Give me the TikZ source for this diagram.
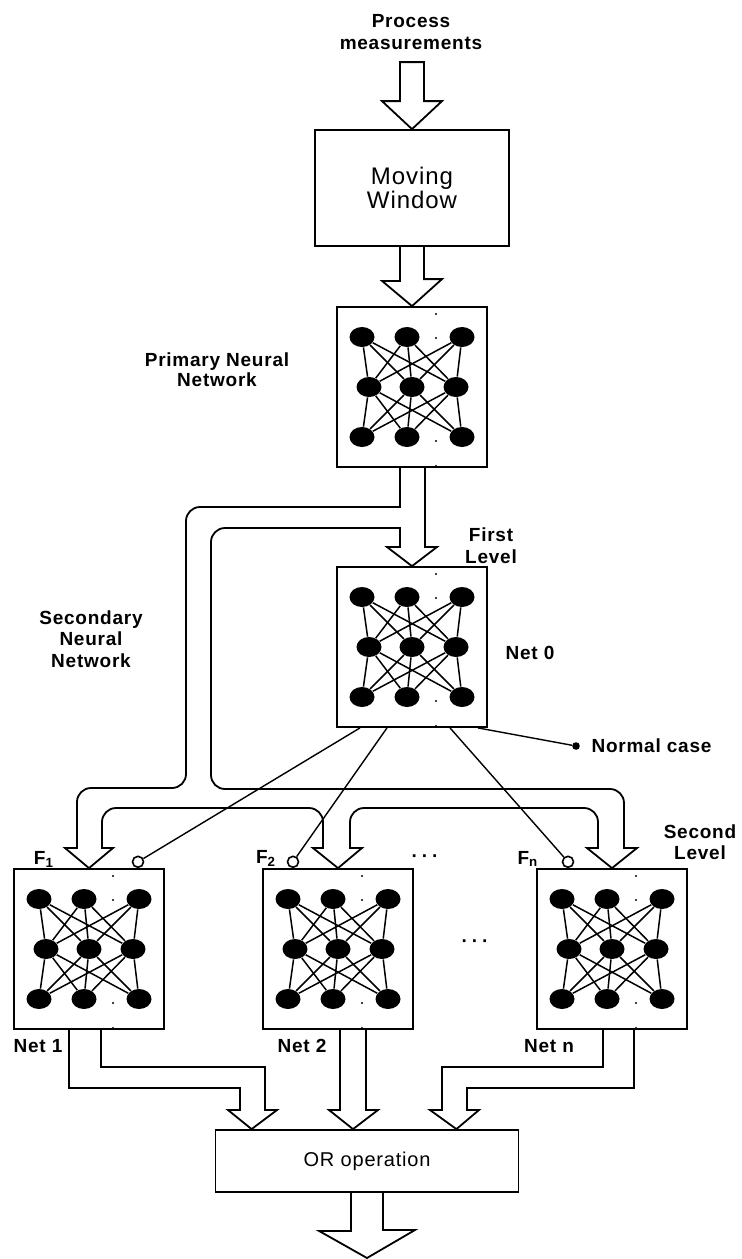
\documentclass[tikz,border=0pt]{standalone}
\usepackage{fontspec}
\setmainfont[LetterSpace=4]{Liberation Sans}
\usepackage{tikz}
\usetikzlibrary{positioning, shapes.geometric, calc}

\tikzset{
    netbox/.style={draw, line width=0.9pt, minimum width=75pt, minimum height=80pt, inner sep=0pt},
    neuron/.style={ellipse, fill=black, minimum width=12.5pt, minimum height=10pt, inner sep=0pt},
    link/.style={line width=0.75pt},
    plainbox/.style={draw, line width=0.9pt, align=center, inner sep=0pt},
    chan/.style={line width=0.9pt, line join=miter},
    roundchan/.style={chan, rounded corners=7pt},
    lbl/.style={font=\bfseries\fontsize{9.5}{10.8}\selectfont, align=center, inner sep=1pt},
    inhib/.style={circle, draw, fill=white, line width=0.8pt, minimum size=5.5pt, inner sep=0pt},
    thinlink/.style={line width=0.7pt},
}

% one small network: box, 3x3 neurons, full links between layers
\newcommand\drawnet[3]{%
    \node[netbox] (#1) at (#2,#3) {};
    \foreach \col/\dx in {1/-50,2/-5,3/50} {
        \node[neuron] (#1-1-\col) at ($(#1)+(\dx,-50)$) {};
        \node[neuron] (#1-3-\col) at ($(#1)+(\dx,50)$) {};
    }
    \foreach \col/\dx in {1/-43,2/0,3/44}
        \node[neuron] (#1-2-\col) at ($(#1)+(\dx,0)$) {};
    \foreach \a in {1,2,3} \foreach \b in {1,2,3} {
        \draw[link] (#1-1-\a) -- (#1-2-\b);
        \draw[link] (#1-2-\a) -- (#1-3-\b);
    }
    \foreach \dy in {-73,-49,54,79} \fill ($(#1)+(24,\dy)$) circle (0.6pt);
}

\begin{document}
\begin{tikzpicture}[x=0.5pt, y=-0.5pt]
    \useasboundingbox (0,0) rectangle (741,1259);
    % input and moving window
    \node[lbl] (pm) at (411,32) {Process\\measurements};
    \node[plainbox, minimum width=97pt, minimum height=58pt, font=\fontsize{12}{12}\selectfont] (mw) at (412,188) {Moving\\Window};
    % networks
    \drawnet{prim}{412}{387}
    \drawnet{net0}{412}{647}
    \drawnet{net1}{89}{949}
    \drawnet{net2}{338}{949}
    \drawnet{netn}{612}{949}
    \node[plainbox, minimum width=151.5pt, minimum height=31pt, font=\fontsize{10}{11}\selectfont] (orop) at (367,1161) {OR operation};
    \coordinate (out) at (367,1258);
    % labels
    \node[lbl, font=\bfseries\fontsize{9.5}{7.8}\selectfont] (primlbl) at (217,370) {Primary Neural\\Network};
    \node[lbl] (firstlbl) at (491,546) {First\\Level};
    \node[lbl] (seclbl) at (91,639) {Secondary\\Neural\\Network};
    \node[lbl] (net0lbl) at (530,653) {Net 0};
    \node[lbl] (secondlbl) at (700,842) {Second\\Level};
    \node[lbl] (f1lbl) at (44,859) {F\textsubscript{1}};
    \node[lbl] (f2lbl) at (266,858) {F\textsubscript{2}};
    \node[lbl] (fnlbl) at (528,859) {F\textsubscript{n}};
    \node[lbl] (dotsa) at (425,859) {·\kern2pt·\kern2pt·};
    \node[lbl] (dotsb) at (475,944) {·\kern2pt·\kern2pt·};
    \node[lbl] (net1lbl) at (38,1046) {Net 1};
    \node[lbl] (net2lbl) at (302,1046) {Net 2};
    \node[lbl] (netnlbl) at (549,1046) {Net n};
    % hollow arrows on the main axis
    \draw[chan] ($(mw.north)+(-12,-67)$) -- ++(0,39) -- ++(-18,0) -- (mw.north) -- ++(30,-28) -- ++(-18,0) -- ++(0,-39) -- cycle;
    \draw[chan] ($(mw.south)+(-12,0)$) -- ++(0,34) -- ++(-18,0) -- (prim.north) -- ++(30,-27) -- ++(-18,0) -- ($(mw.south)+(12,0)$);
    % primary output: to net 0 and round to the second level
    \draw[chan] ($(prim.south)+(-12,0)$) -- (400,507) -- (300,507);
    \draw[roundchan] (300,507) -- (186,507) -- (186,788) -- (77,788) -- (77,830);
    \draw[chan] (77,830) -- (77,848) -- (65,848) -- (net1.north) -- (113,848) -- (102,848) -- (102,830);
    \draw[roundchan] (102,830) -- (102,808) -- (323,808) -- (323,830);
    \draw[chan] (323,830) -- (323,848) -- (313,848) -- (net2.north) -- (362,848) -- (350,848) -- (350,830);
    \draw[roundchan] (350,830) -- (350,808) -- (598,808) -- (598,830);
    \draw[chan] (598,830) -- (598,848) -- (587,848) -- (netn.north) -- (637,848) -- (624,848) -- (624,830);
    \draw[roundchan] (624,830) -- (624,789) -- (211,789) -- (211,528) -- (300,528);
    \draw[chan] (300,528) -- (400,528) -- (400,547) -- (387,547) -- (net0.north) -- (437,547) -- (425,547) -- ($(prim.south)+(13,0)$);
    % net 0 switches the second level nets
    \node[inhib, anchor=south] (f1c) at ($(net1.north)+(49,0)$) {};
    \node[inhib, anchor=south] (f2c) at ($(net2.north)+(-45,0)$) {};
    \node[inhib, anchor=south] (fnc) at ($(netn.north)+(-44,0)$) {};
    \draw[thinlink] ($(net0.south)+(-52,0)$) -- (f1c);
    \draw[thinlink] ($(net0.south)+(-25,0)$) -- (f2c);
    \draw[thinlink] ($(net0.south)+(38,0)$) -- (fnc);
    \node[circle, fill=black, minimum size=3.8pt, inner sep=0pt] (nc) at (576,746) {};
    \node[lbl, right=4.5pt of nc] (nclbl) {Normal case};
    \draw[thinlink] ($(net0.south east)+(-10,0)$) -- (nc);
    % outputs into the OR box
    \draw[chan] ($(net1.south)+(12,0)$) -- (101,1067) -- (265,1067) -- (265,1110) -- (277,1110) -- ($(orop.north west)+(37,0)$) -- (228,1110) -- (240,1110) -- (240,1088) -- (69,1088) -- ($(net1.south)+(-20,0)$);
    \draw[chan] ($(net2.south)+(2,0)$) -- (340,1110) -- (329,1110) -- ($(orop.north)+(-14,0)$) -- (378,1110) -- (366,1110) -- ($(net2.south)+(28,0)$);
    \draw[chan] ($(netn.south)+(-9,0)$) -- (603,1067) -- (442,1067) -- (442,1110) -- (430,1110) -- ($(orop.north east)+(-63,0)$) -- (479,1110) -- (467,1110) -- (467,1088) -- (634,1088) -- ($(netn.south)+(22,0)$);
    \draw[chan] ($(orop.south)+(-16,0)$) -- ++(0,38) -- ++(-32,0) -- (out) -- ++(48,-28) -- ++(-32,0) -- ($(orop.south)+(16,0)$);
\end{tikzpicture}
\end{document}
